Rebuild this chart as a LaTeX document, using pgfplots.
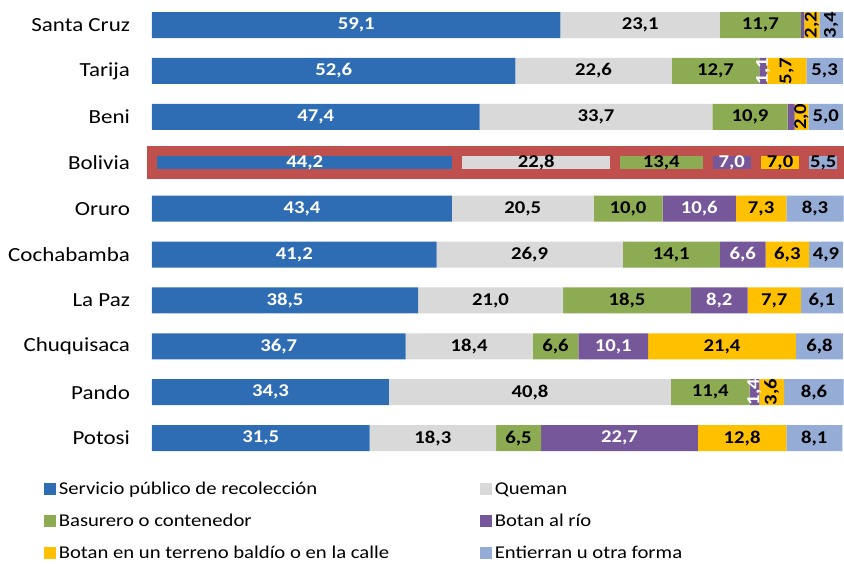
\documentclass[border=0pt]{standalone}
\usepackage{pgfplots}
\pgfplotsset{compat=1.18}
\usepackage{pgfplotstable}
\usepackage{fontspec}
\setmainfont{Carlito}[FakeStretch=1.15]
\usetikzlibrary{calc}

\definecolor{cblue}{HTML}{2E6DB4}
\definecolor{cgray}{HTML}{D9D9D9}
\definecolor{cgreen}{HTML}{8CAB52}
\definecolor{cpurple}{HTML}{76579A}
\definecolor{cyellow}{HTML}{FFC000}
\definecolor{clight}{HTML}{94ACD6}
\definecolor{cred}{HTML}{C0504D}

% departamentos (Bolivia aparte)
\pgfplotstableread{
pos s1 s2 s3 s4 s5 s6 r4 r5 r6 o4
9 59.1 23.1 11.7 0.5 2.2 3.4 90 90 90 0
8 52.6 22.6 12.7 1.1 5.7 5.3 90 90 0 1
7 47.4 33.7 10.9 1.0 2.0 5.0 90 90 0 0
5 43.4 20.5 10.0 10.6 7.3 8.3 0 0 0 1
4 41.2 26.9 14.1 6.6 6.3 4.9 0 0 0 1
3 38.5 21.0 18.5 8.2 7.7 6.1 0 0 0 1
2 36.7 18.4 6.6 10.1 21.4 6.8 0 0 0 1
1 34.3 40.8 11.4 1.4 3.6 8.6 90 90 0 1
0 31.5 18.3 6.5 22.7 12.8 8.1 0 0 0 1
}\deptos

\pgfplotstableread{
pos s1 s2 s3 s4 s5 s6
6 44.2 22.8 13.4 7.0 7.0 5.5
}\bolivia

\pgfplotsset{
  basebars/.style={
    width=519pt, height=345.8pt, scale only axis,
    xbar stacked, xmin=0, xmax=100.15, ymin=-0.5, ymax=9.545,
    axis line style={draw=none}, major tick length=0pt, xtick=\empty,
    ytick={0,...,9},
    nodes near coords, point meta=explicit,
    every node near coord/.append style={font=\bfseries\fontsize{13.5}{15}\selectfont, text=black},
    /pgf/number format/.cd, use comma, fixed, fixed zerofill, precision=1, assume math mode=true,
  },
}

\begin{document}
\begin{tikzpicture}
\begin{axis}[basebars, name=main, bar width=19.5pt,
  yticklabels={Potosi,Pando,Chuquisaca,La Paz,Cochabamba,Oruro,Bolivia,Beni,Tarija,Santa Cruz},
  yticklabel style={font=\fontsize{15}{17}\selectfont, xshift=-13pt},
  legend columns=2,
  legend style={draw=none, fill=none, at={(-0.162,0)}, anchor=north west, yshift=-11.5pt,
    font=\fontsize{13.5}{16}\selectfont, row sep=9pt,
    /tikz/every even column/.append style={column sep=0pt}},
  legend cell align=left,
  legend image code/.code={\fill[#1] (0pt,-4.5pt) rectangle (9pt,4.5pt);},
]
\addplot[fill=cblue, draw=none, every node near coord/.append style={text=white}]
  table[x=s1, y=pos, meta=s1]{\deptos};
\addlegendentry{\makebox[314pt][l]{Servicio público de recolección}}
\addplot[fill=cgray, draw=none]
  table[x=s2, y=pos, meta=s2]{\deptos};
\addlegendentry{Queman}
\addplot[fill=cgreen, draw=none]
  table[x=s3, y=pos, meta=s3]{\deptos};
\addlegendentry{\makebox[314pt][l]{Basurero o contenedor}}
\addplot[fill=cpurple, draw=none,
  visualization depends on={\thisrow{r4} \as \rot},
  visualization depends on={\thisrow{o4} \as \op},
  every node near coord/.append style={text=white, rotate=\rot, text opacity=\op}]
  table[x=s4, y=pos, meta=s4]{\deptos};
\addlegendentry{Botan al río}
\addplot[fill=cyellow, draw=none,
  visualization depends on={\thisrow{r5} \as \rot},
  every node near coord/.append style={rotate=\rot}]
  table[x=s5, y=pos, meta=s5]{\deptos};
\addlegendentry{\makebox[314pt][l]{Botan en un terreno baldío o en la calle}}
\addplot[fill=clight, draw=none,
  visualization depends on={\thisrow{r6} \as \rot},
  every node near coord/.append style={rotate=\rot}]
  table[x=s6, y=pos, meta=s6]{\deptos};
\addlegendentry{Entierran u otra forma}
\end{axis}

% Bolivia, resaltada con borde rojo grueso
\begin{axis}[basebars, at={(main.south west)}, anchor=south west, bar width=17.6pt,
  hide axis, clip=false]
\addplot[fill=cblue, draw=cred, line width=7.5pt, every node near coord/.append style={text=white}]
  table[x=s1, y=pos, meta=s1]{\bolivia};
\addplot[fill=cgray, draw=cred, line width=7.5pt]
  table[x=s2, y=pos, meta=s2]{\bolivia};
\addplot[fill=cgreen, draw=cred, line width=7.5pt]
  table[x=s3, y=pos, meta=s3]{\bolivia};
\addplot[fill=cpurple, draw=cred, line width=7.5pt, every node near coord/.append style={text=white}]
  table[x=s4, y=pos, meta=s4]{\bolivia};
\addplot[fill=cyellow, draw=cred, line width=7.5pt]
  table[x=s5, y=pos, meta=s5]{\bolivia};
\addplot[fill=clight, draw=cred, line width=7.5pt]
  table[x=s6, y=pos, meta=s6]{\bolivia};
\end{axis}

\pgfresetboundingbox
\path ($(main.north west)+(-114pt,0)$) rectangle ($(main.north east)+(0,-423pt)$);
\end{tikzpicture}
\end{document}
